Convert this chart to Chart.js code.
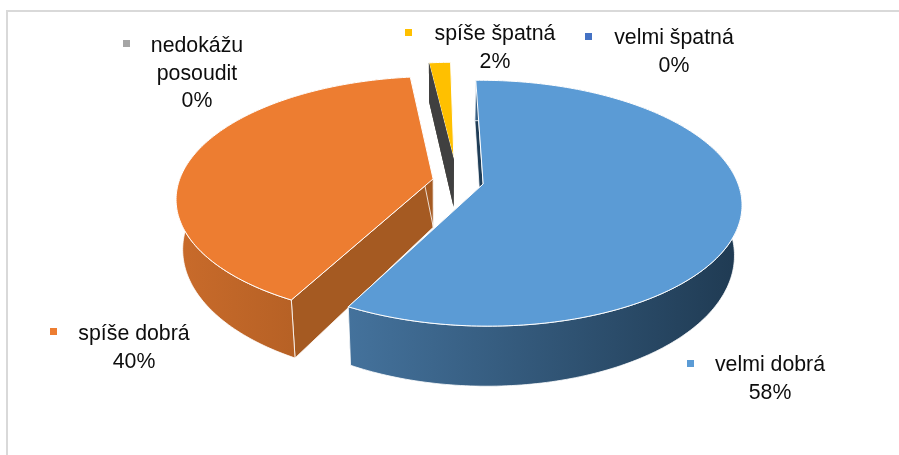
<!DOCTYPE html>
<html><head><meta charset="utf-8">
<style>
html,body{margin:0;padding:0;background:#fff;overflow:hidden}
#wrap{position:relative;width:899px;height:455px}
#frame{position:absolute;left:6px;top:10px;right:-4px;bottom:-4px;border:2px solid #d9d9d9}
canvas{position:absolute;left:0;top:0}
</style>
<script src="https://cdn.jsdelivr.net/npm/chart.js@4"></script>
</head><body>
<div id="wrap"><div id="frame"></div><canvas id="c" width="899" height="455"></canvas></div>
<script>
const categories = ['velmi dobrá','spíše dobrá','nedokážu posoudit','spíše špatná','velmi špatná'];
const labelLines = [['velmi dobrá'],['spíše dobrá'],['nedokážu','posoudit'],['spíše špatná'],['velmi špatná']];
const responses = [36,25,0,1,0];
const topColors = ['#5B9BD5','#ED7D31','#A5A5A5','#FFC000','#4472C4'];
const markerColors = ['#5B9BD5','#ED7D31','#A5A5A5','#FFC000','#4472C4'];
const radialWallColors = ['#1f3d57','#a55a22','#404040','#7f6000',null];
const rimFrom = ['#44729c','#c96b2b','#404040','#7f6000','#223f57'];
const rimTo = ['#1f3a52','#a4571f','#404040','#7f6000','#223f57'];
const explode = [22,20,38,38,0];
// centre x, first line centre y, marker x, marker y
const labelLayout = [
  [770,365,687,360],
  [134,334,50,328],
  [197,46,123,40],
  [495,34,405,29],
  [674,38,585,33]
];
const view = {ox:457, oy:181, a:254, b:119, k:0.156, vx:440, sx:0.025, d0:34, dk:0.08};

function project(u,v){
  const w = 1 - view.k*v;
  return [view.ox + view.a*u/w, view.oy + view.b*v/w];
}
function lower(p){
  return [p[0] + view.sx*(view.vx-p[0]), p[1] + view.d0 + view.dk*p[1]];
}
function poly(ctx,pts){
  ctx.beginPath();
  pts.forEach((p,i)=> i ? ctx.lineTo(p[0],p[1]) : ctx.moveTo(p[0],p[1]));
  ctx.closePath();
}
const pie3d = {
  id:'pie3d',
  beforeDatasetDraw(chart,args){
    const ctx = chart.ctx, els = args.meta.data;
    const total = responses.reduce((s,x)=>s+x,0);
    const centre = i => {
      const e = els[i], R = e.outerRadius;
      const off = e.options.offset/R, mid = (e.startAngle+e.endAngle)/2;
      return [off*Math.cos(mid), off*Math.sin(mid)];
    };
    ctx.save();
    for(let i=els.length-1;i>=0;i--){
      const e = els[i];
      if(!radialWallColors[i]) continue;
      const zero = e.circumference === 0;
      const c = zero ? centre((i+1)%els.length) : centre(i);
      const apex = project(c[0],c[1]);
      const rim = [];
      const span = e.endAngle-e.startAngle;
      const n = Math.max(1,Math.ceil(span/(Math.PI/180)));
      for(let s=0;s<=n;s++){
        const t = e.startAngle+span*s/n;
        rim.push(project(c[0]+Math.cos(t),c[1]+Math.sin(t)));
      }
      const rimLow = rim.map(lower), apexLow = lower(apex);
      ctx.lineJoin='round';
      ctx.strokeStyle='#ffffff';
      // radial walls
      ctx.fillStyle = radialWallColors[i];
      poly(ctx,[rim[0],apex,apexLow,rimLow[0]]); ctx.fill();
      if(!zero){ ctx.lineWidth = 0.8; ctx.stroke(); }
      const last = rim.length-1;
      poly(ctx,[rim[last],apex,apexLow,rimLow[last]]); ctx.fill();
      if(!zero){ ctx.lineWidth = 0.8; ctx.stroke(); }
      if(zero) continue;
      // outer wall
      const xs = rim.map(p=>p[0]);
      const g = ctx.createLinearGradient(Math.min(...xs),0,Math.max(...xs),0);
      g.addColorStop(0,rimFrom[i]); g.addColorStop(1,rimTo[i]);
      ctx.fillStyle = g;
      poly(ctx,rim.concat(rimLow.slice().reverse())); ctx.fill();
      ctx.lineWidth=0.8; ctx.stroke();
      // top face
      ctx.fillStyle = e.options.backgroundColor;
      poly(ctx,[apex].concat(rim)); ctx.fill();
      ctx.lineWidth=1; ctx.stroke();
    }
    ctx.restore();
    return false;
  },
  afterDraw(chart){
    const ctx = chart.ctx;
    const total = responses.reduce((s,x)=>s+x,0);
    ctx.save();
    ctx.font = '21.3px "Liberation Sans", Arial, sans-serif';
    ctx.textAlign='center'; ctx.textBaseline='middle'; ctx.fillStyle='#0d0d0d';
    categories.forEach((c,i)=>{
      const [x,y,mx,my] = labelLayout[i];
      const lines = labelLines[i].concat([Math.round(responses[i]/total*100)+'%']);
      lines.forEach((l,j)=>ctx.fillText(l,x,y+j*27.7));
      ctx.save(); ctx.fillStyle=markerColors[i]; ctx.fillRect(mx,my,7,7); ctx.restore();
    });
    ctx.restore();
  }
};
new Chart(document.getElementById('c'),{
  type:'pie',
  data:{labels:categories,datasets:[{data:responses,backgroundColor:topColors,offset:explode,borderWidth:0}]},
  options:{
    responsive:false,animation:false,rotation:-1,
    layout:{padding:0},
    plugins:{legend:{display:false},tooltip:{enabled:false},title:{display:false}}
  },
  plugins:[pie3d]
});
</script>
</body></html>
